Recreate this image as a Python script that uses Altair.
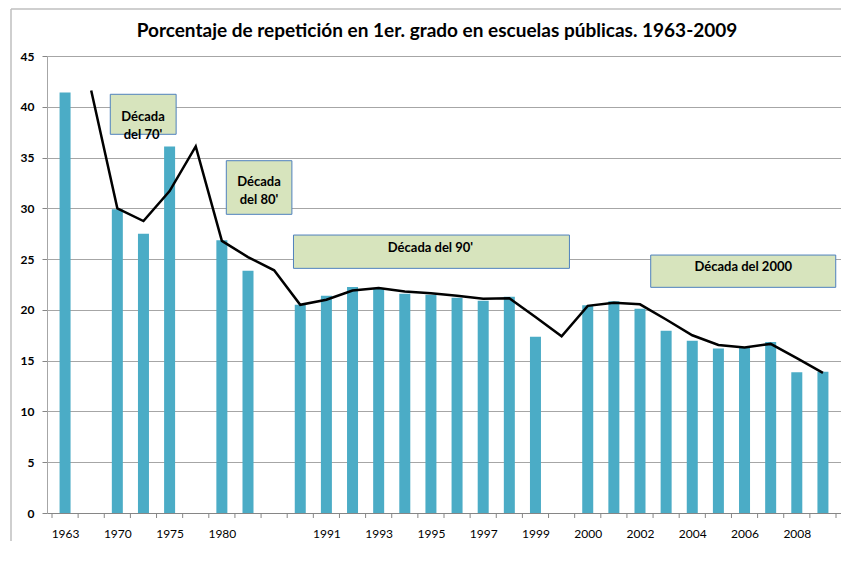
import json
import altair as alt
import pandas as pd

# ---- data ----
labels = ["1963", "1965", "1970", "1972", "1975", "1977", "1980", "1982", "",
          "1990", "1991", "1992", "1993", "1994", "1995", "1996", "1997", "1998", "1999", "",
          "2000", "2001", "2002", "2003", "2004", "2005", "2006", "2007", "2008", "2009"]
bars = [41.4, None, 29.9, 27.5, 36.1, None, 26.85, 23.85, None,
        20.5, 21.4, 22.25, 22.05, 21.6, 21.5, 21.2, 20.9, 21.3, 17.35, None,
        20.45, 20.85, 20.1, 17.95, 16.95, 16.2, 16.3, 16.85, 13.85, 13.9]
trend = [None, 41.6, 30.0, 28.75, 31.7, 36.1, 26.8, 25.2, 23.9,
         20.5, 21.0, 21.9, 22.15, 21.8, 21.65, 21.4, 21.1, 21.15, 19.3, 17.4,
         20.4, 20.7, 20.55, 19.05, 17.5, 16.55, 16.3, 16.65, 15.25, 13.8]

box_text = ["Década\ndel 70'", "Década\ndel 80'", "Década del 90'", "Década del 2000"]
box_x1 = [1.73, 6.17, 8.74, 22.41]
box_x2 = [4.25, 8.68, 19.30, 29.49]
box_y1 = [41.23, 34.69, 27.37, 25.40]
box_y2 = [37.29, 29.41, 24.09, 22.22]
text_x = [2.98, 7.42, 13.98, 25.95]
text_y = [39.0, 32.59, 26.06, 24.19]

TITLE = "Porcentaje de repetición en 1er. grado en escuelas públicas. 1963-2009"

n = len(labels)
df = pd.DataFrame({"idx": list(range(n)), "label": labels, "bar": bars, "trend": trend})
bounds = pd.DataFrame({"b": [i - 0.5 for i in range(n + 1)]})
ann = pd.DataFrame({"t": box_text, "x1": box_x1, "x2": box_x2, "y1": box_y1, "y2": box_y2,
                    "tx": text_x, "ty": text_y})
title_df = pd.DataFrame({"t": [TITLE]})

W, H = 794, 457
FONT = "Lato"
GRID = "#a6a6a6"

label_values = [i for i in range(0, n, 2) if labels[i]]
label_expr = json.dumps(labels) + "[datum.value]"

xscale = alt.Scale(domain=[-0.5, n - 0.5], nice=False, zero=False)
yscale = alt.Scale(domain=[0, 45], nice=False)

x_axis = alt.Axis(values=label_values, labelExpr=label_expr, ticks=False, grid=False,
                  domainColor="#868686", labelFont=FONT, labelFontSize=12, labelColor="black",
                  labelPadding=15, labelFlush=False, labelOverlap=False)
y_axis = alt.Axis(values=list(range(0, 46, 5)), grid=True, gridColor=GRID, domainColor=GRID,
                  tickColor="#868686", tickSize=5, labelFont=FONT, labelFontSize=12,
                  labelFontWeight="bold", labelColor="black", labelPadding=8)

bar_layer = alt.Chart(df).mark_bar(size=11, color="#4bacc6").encode(
    x=alt.X("idx:Q", scale=xscale, axis=x_axis, title=None),
    y=alt.Y("bar:Q", scale=yscale, axis=y_axis, title=None),
)

line_layer = alt.Chart(df).mark_line(color="black", strokeWidth=2.5).encode(
    x=alt.X("idx:Q", title=None),
    y=alt.Y("trend:Q", title=None),
)

tick_layer = alt.Chart(bounds).mark_rule(color="#868686").encode(
    x=alt.X("b:Q", title=None),
    y=alt.value(H),
    y2=alt.value(H + 5),
)

box_layer = alt.Chart(ann).mark_rect(fill="#d7e4bd", stroke="#4f81bd", strokeWidth=1).encode(
    x=alt.X("x1:Q", title=None), x2="x2:Q",
    y=alt.Y("y1:Q", title=None), y2="y2:Q",
)

text_layer = alt.Chart(ann).mark_text(font=FONT, fontSize=13, fontWeight="bold", color="black",
                                      lineBreak="\n", lineHeight=18, align="center",
                                      baseline="middle").encode(
    x=alt.X("tx:Q", title=None),
    y=alt.Y("ty:Q", title=None),
    text="t:N",
)

title_layer = alt.Chart(title_df).mark_text(font=FONT, fontSize=19, fontWeight="bold",
                                            color="black", align="center",
                                            baseline="middle").encode(
    text="t:N", x=alt.value(390), y=alt.value(-25))

frame_top = alt.Chart(title_df).mark_rule(color="#bfbfbf", strokeWidth=1.5).encode(
    x=alt.value(-36), x2=alt.value(W + 10), y=alt.value(-47))
frame_left = alt.Chart(title_df).mark_rule(color="#bfbfbf", strokeWidth=1.5).encode(
    x=alt.value(-36), y=alt.value(-47), y2=alt.value(H + 60))

chart = alt.layer(
    bar_layer, line_layer, tick_layer, box_layer, text_layer, title_layer, frame_top, frame_left
).properties(
    width=W, height=H,
    autosize=alt.AutoSizeParams(type="none"),
    padding={"left": 39, "top": 48, "right": 0, "bottom": 28},
).configure_view(stroke=None).configure(background="white")

chart.save("out.html", embed_options={"renderer": "svg", "actions": False})
